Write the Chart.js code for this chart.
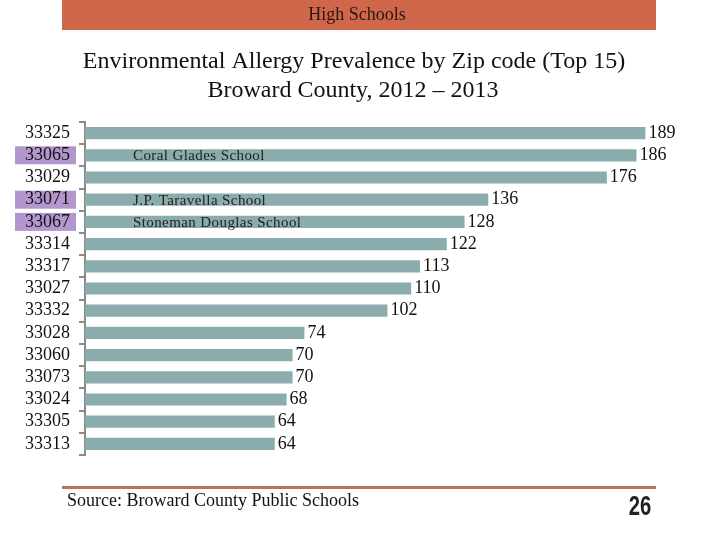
<!DOCTYPE html>
<html>
<head>
<meta charset="utf-8">
<script src="https://cdn.jsdelivr.net/npm/chart.js@4.4.1/dist/chart.umd.min.js"></script>
<style>
  html, body { margin: 0; padding: 0; background: #fff; }
  #wrap { width: 720px; height: 540px; }
</style>
</head>
<body>
<div id="wrap"><canvas id="allergyChart" width="720" height="540"></canvas></div>
<script>
// Zip codes, top 15
const zipCodes = ['33325', '33065', '33029', '33071', '33067', '33314', '33317', '33027',
  '33332', '33028', '33060', '33073', '33024', '33305', '33313'];
const prevalence = [189, 186, 176, 136, 128, 122, 113, 110, 102, 74, 70, 70, 68, 64, 64];
// zips with a high school note (purple highlight)
const highlighted = ['33065', '33071', '33067'];
const schoolNotes = ['', 'Coral Glades School', '', 'J.P. Taravella School', 'Stoneman Douglas School',
  '', '', '', '', '', '', '', '', '', ''];

const serif = '"Liberation Serif", "Times New Roman", serif';

// banner, title, footer and highlight boxes
const pagePlugin = {
  id: 'pageDecor',
  beforeDraw(chart) {
    const ctx = chart.ctx;
    ctx.save();
    ctx.fillStyle = '#fff';
    ctx.fillRect(0, 0, chart.width, chart.height);

    // top banner
    ctx.fillStyle = '#CF684B';
    ctx.fillRect(62, 0, 594, 30);
    ctx.fillStyle = '#2b1712';
    ctx.font = '18px ' + serif;
    ctx.textAlign = 'center';
    ctx.textBaseline = 'middle';
    ctx.fillText('High Schools', 357, 15);

    // title
    ctx.fillStyle = '#111';
    ctx.font = '24px ' + serif;
    ctx.fillText('Environmental Allergy Prevalence by Zip code (Top 15)', 354, 62);
    ctx.fillText('Broward County, 2012 \u2013 2013', 353, 91);

    // purple boxes behind highlighted zips
    const y = chart.scales.y;
    ctx.fillStyle = '#B396CD';
    zipCodes.forEach((z, i) => {
      if (highlighted.includes(z)) {
        const py = y.getPixelForValue(i);
        ctx.fillRect(15, py - 9, 61, 18);
      }
    });

    // footer
    ctx.fillStyle = '#B9725B';
    ctx.fillRect(62, 486, 594, 3);
    ctx.fillStyle = '#111';
    ctx.font = '18px ' + serif;
    ctx.textAlign = 'left';
    ctx.fillText('Source: Broward County Public Schools', 67, 501);

    // page number, condensed bold
    ctx.save();
    ctx.translate(640, 508);
    ctx.scale(0.75, 1);
    ctx.font = 'bold 27px "Liberation Sans", Arial, sans-serif';
    ctx.textAlign = 'center';
    ctx.fillStyle = '#222';
    ctx.fillText('26', 0, 0);
    ctx.restore();
    ctx.restore();
  },
  afterDatasetsDraw(chart) {
    const ctx = chart.ctx;
    const bars = chart.getDatasetMeta(0).data;
    ctx.save();
    ctx.textBaseline = 'middle';
    ctx.textAlign = 'left';
    bars.forEach((bar, i) => {
      ctx.fillStyle = '#111';
      ctx.font = '18px ' + serif;
      ctx.fillText(String(prevalence[i]), bar.x + 3, bar.y);
      if (schoolNotes[i]) {
        ctx.fillStyle = '#222';
        ctx.font = '15px ' + serif;
        ctx.letterSpacing = '0.4px';
        ctx.fillText(schoolNotes[i], 133, bar.y + 1);
        ctx.letterSpacing = '0px';
      }
    });
    ctx.restore();
  }
};

new Chart(document.getElementById('allergyChart'), {
  type: 'bar',
  data: {
    labels: zipCodes,
    datasets: [{
      data: prevalence,
      backgroundColor: '#8BACAC',
      borderWidth: 0,
      categoryPercentage: 1,
      barPercentage: 0.55
    }]
  },
  options: {
    indexAxis: 'y',
    responsive: false,
    animation: false,
    layout: { padding: { top: 122, bottom: 85, right: 42, left: 0 } },
    plugins: {
      legend: { display: false },
      tooltip: { enabled: false }
    },
    scales: {
      x: { display: false, min: 0, max: 200 },
      y: {
        offset: true,
        afterFit(scale) { scale.width = 85; },
        border: { display: true, color: '#8a8a8a', width: 2 },
        grid: { offset: true, drawOnChartArea: false, color: '#8a8a8a', tickLength: 6, lineWidth: 2 },
        ticks: {
          autoSkip: false,
          color: '#111',
          padding: 9,
          font: { family: serif, size: 18 }
        }
      }
    }
  },
  plugins: [pagePlugin]
});
</script>
</body>
</html>
